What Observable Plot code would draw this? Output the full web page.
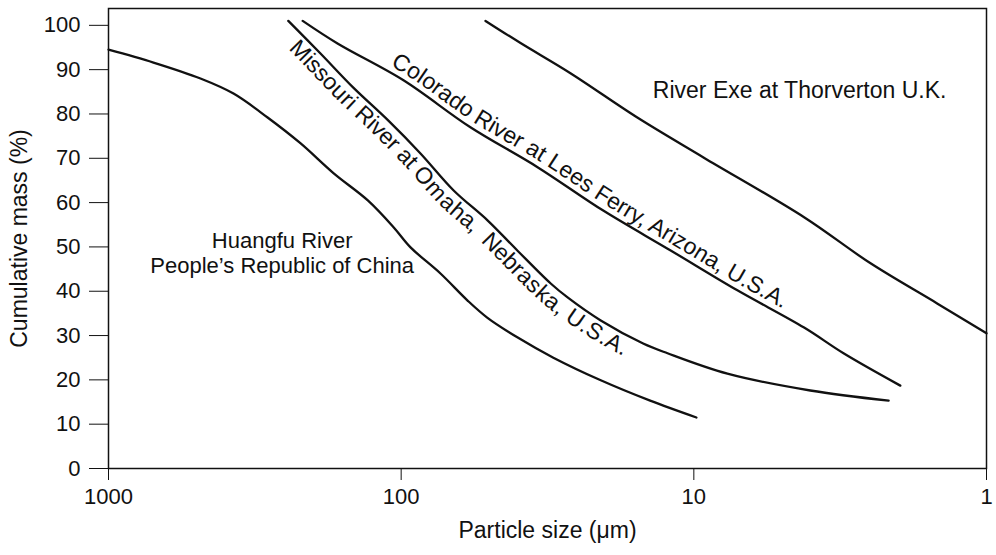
<!DOCTYPE html>
<html><head><meta charset="utf-8">
<script src="https://cdn.jsdelivr.net/npm/d3@7"></script>
<script src="https://cdn.jsdelivr.net/npm/@observablehq/plot@0.6"></script>
<style>body{margin:0;background:#fff;}</style>
</head><body><div id="chart"></div>
<script>
// Particle size (µm) and cumulative mass (%)
const huangfuSize = [1000, 702, 485, 374, 286, 221, 170, 130, 106, 92.9, 73.4, 59.3, 50.7, 40.1, 30.2, 20.8, 14.1, 9.8];
const huangfuMass = [94.5, 91.6, 88, 84.6, 79.2, 73.4, 66.6, 60.5, 54.4, 49.9, 44, 37.9, 34, 29.6, 25, 19.9, 15.3, 11.5];
const missouriSize = [243, 189, 146, 111, 85.9, 66.3, 50.7, 40.1, 30.9, 27, 20.8, 14.9, 12.3, 7.68, 4.0, 2.16];
const missouriMass = [101, 93.7, 86, 78.6, 71.1, 62.8, 56, 49.2, 41.8, 38.6, 33.4, 28.2, 26, 21.4, 17.6, 15.3];
const coloradoSize = [217, 165, 98.2, 58, 34.2, 20.4, 12, 7.1, 4.2, 3.08, 1.97];
const coloradoMass = [101, 95.9, 87.6, 77, 68, 58.2, 49.2, 40.2, 31.8, 26, 18.7];
const exeSize = [51.5, 39.1, 26.4, 15.6, 9.27, 4.2, 2.49, 1.47, 1.0];
const exeMass = [101, 96, 89.2, 79.2, 70.2, 56.7, 46.3, 37.2, 30.5];

const xTicks = [1000, 100, 10, 1];
const yTicks = [0, 10, 20, 30, 40, 50, 60, 70, 80, 90, 100];

const huangfuLabel = ["Huangfu River\nPeople\u2019s Republic of China"];
const huangfuLabelPos = {size: 255, mass: 48.8};
const exeLabel = ["River Exe at Thorverton U.K."];
const exeLabelPos = {size: 4.35, mass: 85.3};
const missouriLabel = "Missouri River at Omaha,\u00A0 Nebraska, U.S.A.";
const coloradoLabel = "Colorado River at Lees Ferry, Arizona, U.S.A.";
const xTitle = ["Particle size (\u03BCm)"];
const yTitle = ["Cumulative mass (%)"];

const toRows = (s, m) => s.map((v, i) => ({size: v, mass: m[i]}));
const huangfu = toRows(huangfuSize, huangfuMass);
const missouri = toRows(missouriSize, missouriMass);
const colorado = toRows(coloradoSize, coloradoMass);
const exe = toRows(exeSize, exeMass);

const ink = "#111";
const font = "'Liberation Sans', Arial, Helvetica, sans-serif";
const lineOpts = {x: "size", y: "mass", curve: "catmull-rom", stroke: ink, strokeWidth: 2.3};

const svg = Plot.plot({
  width: 996, height: 555,
  marginLeft: 108, marginRight: 10, marginTop: 8, marginBottom: 87,
  style: {fontFamily: font, fontSize: "22px", color: ink, background: "#fff"},
  x: {type: "log", domain: [1000, 1], ticks: xTicks, tickFormat: d => String(d), tickSize: 12, tickPadding: 8, label: null},
  y: {domain: [0, 103.8], ticks: yTicks, tickSize: 19, tickPadding: 9, label: null},
  marks: [
    Plot.frame({stroke: ink, strokeWidth: 1.5}),
    Plot.line(huangfu, lineOpts),
    Plot.line(missouri, lineOpts),
    Plot.line(colorado, lineOpts),
    Plot.line(exe, lineOpts),
    Plot.text(huangfuLabel, {x: () => huangfuLabelPos.size, y: () => huangfuLabelPos.mass, text: d => d, textAnchor: "middle", lineAnchor: "middle", lineHeight: 1.15, fontSize: 22, fill: ink}),
    Plot.text(exeLabel, {x: () => exeLabelPos.size, y: () => exeLabelPos.mass, text: d => d, textAnchor: "middle", fontSize: 23, fill: ink}),
    Plot.text(xTitle, {frameAnchor: "bottom", dy: 69, text: d => d, textAnchor: "middle", fontSize: 23, fill: ink}),
    Plot.text(yTitle, {frameAnchor: "left", rotate: -90, dx: -89, text: d => d, textAnchor: "middle", fontSize: 23, fill: ink})
  ]
});
document.getElementById("chart").appendChild(svg);

// Curved labels following the Missouri and Colorado curves, word by word
const ns = "http://www.w3.org/2000/svg";
const paths = svg.querySelectorAll('g[aria-label="line"] path');
function measure(s, size) {
  const t = document.createElementNS(ns, "text");
  t.setAttribute("font-size", size);
  t.setAttribute("font-family", font);
  t.textContent = s;
  svg.appendChild(t);
  const w = t.getComputedTextLength();
  t.remove();
  return w;
}
function pathWords(path, id, str, offset, dy, size) {
  path.setAttribute("id", id);
  const words = str.split(" ");
  words.forEach((w, i) => {
    const prefix = words.slice(0, i + 1).join(" ");
    const start = offset + measure(prefix, size) - measure(w, size);
    const t = document.createElementNS(ns, "text");
    t.setAttribute("dy", dy);
    t.setAttribute("font-size", size);
    t.setAttribute("font-family", font);
    t.setAttribute("text-anchor", "start");
    t.setAttribute("fill", ink);
    t.setAttribute("stroke", "none");
    const tp = document.createElementNS(ns, "textPath");
    tp.setAttribute("href", "#" + id);
    tp.setAttribute("startOffset", start.toFixed(1));
    tp.textContent = w;
    t.appendChild(tp);
    path.parentNode.appendChild(t);
  });
}
pathWords(paths[1], "missouri-path", missouriLabel, 20, 20, 23);
pathWords(paths[2], "colorado-path", coloradoLabel, 98, -6, 23);
</script>
</body></html>
